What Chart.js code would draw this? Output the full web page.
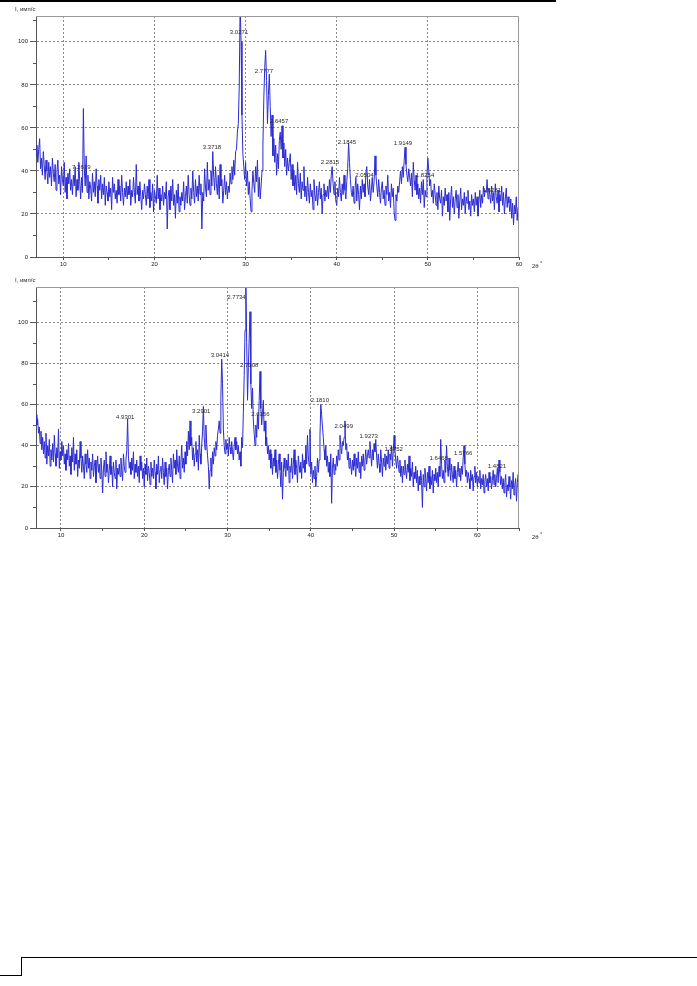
<!DOCTYPE html>
<html>
<head>
<meta charset="utf-8">
<script src="https://cdn.jsdelivr.net/npm/chart.js@4.4.0/dist/chart.umd.min.js"></script>
<style>
  html, body { margin: 0; padding: 0; background: #fff; }
  body { position: relative; width: 697px; height: 986px; overflow: hidden; }
  canvas { position: absolute; left: 0; }
  .rule { position: absolute; border-color: #000; border-style: solid; border-width: 0; }
</style>
</head>
<body>
<canvas id="xrd1" width="560" height="275" style="top:0"></canvas>
<canvas id="xrd2" width="560" height="275" style="top:275px"></canvas>

<div class="rule" style="left:0;top:0;width:556px;border-top-width:2px"></div>
<div class="rule" style="left:21px;top:957px;width:676px;border-top-width:1px"></div>
<div class="rule" style="left:21px;top:957px;height:19px;border-left-width:1px"></div>
<div class="rule" style="left:0;top:975px;width:22px;border-top-width:1px"></div>

<script>
const FONT = "'Liberation Sans', Arial, sans-serif";
const LINE_BLUE = '#2b2bd2';

// scan grid, degrees 2-theta
const scanStart = 7;
const scanStep = 0.1;

// upper pattern, 7.0 .. 60.0
const intensity1 = [
    47, 52, 44, 50, 55, 41, 46, 38, 49, 43, 36, 45, 40, 34, 44, 37, 42, 33, 46, 39,
    35, 43, 31, 40, 45, 34, 38, 29, 42, 36, 33, 44, 30, 37, 27, 39, 34, 41, 31, 36,
    29, 38, 33, 42, 28, 36, 31, 44, 35, 27, 37, 30, 69, 41, 33, 47, 30, 38, 27, 35,
    32, 26, 39, 30, 35, 28, 41, 33, 25, 36, 31, 38, 27, 34, 29, 37, 24, 33, 30, 26,
    35, 28, 32, 22, 37, 30, 34, 27, 31, 25, 36, 29, 33, 26, 38, 30, 24, 32, 28, 35,
    27, 33, 29, 36, 24, 31, 28, 37, 30, 25, 43, 29, 33, 26, 35, 28, 22, 31, 27, 34,
    29, 24, 33, 27, 36, 23, 30, 26, 34, 21, 31, 28, 25, 38, 27, 32, 22, 29, 26, 33,
    24, 30, 27, 35, 13, 28, 31, 22, 33, 26, 36, 24, 29, 18, 31, 25, 34, 21, 28, 24,
    30, 26, 35, 22, 28, 33, 25, 38, 29, 24, 32, 27, 40, 30, 25, 36, 28, 33, 26, 38,
    29, 34, 13, 30, 26, 41, 32, 28, 44, 31, 36, 29, 40, 33, 49, 37, 31, 42, 34, 29,
    38, 27, 43, 33, 36, 25, 31, 38, 29, 35, 27, 33, 30, 39, 34, 42, 36, 45, 38, 49,
    50, 58, 62, 79, 118, 100, 66, 48, 42, 36, 44, 33, 40, 29, 35, 27, 21, 31, 40, 34,
    30, 42, 35, 45, 28, 37, 27, 33, 40, 52, 74, 88, 96, 82, 62, 75, 85, 70, 56, 66,
    47, 55, 44, 52, 38, 48, 41, 54, 58, 50, 61, 46, 53, 42, 50, 38, 46, 40, 44, 48,
    36, 43, 33, 40, 31, 38, 29, 44, 34, 30, 39, 27, 35, 31, 42, 28, 33, 26, 37, 30,
    25, 34, 28, 31, 22, 36, 29, 26, 33, 24, 30, 35, 27, 32, 20, 29, 34, 26, 31, 28,
    33, 27, 36, 30, 38, 42, 34, 29, 35, 26, 24, 32, 28, 37, 30, 26, 34, 29, 38, 31,
    27, 35, 41, 53, 44, 36, 30, 28, 33, 25, 31, 37, 26, 34, 29, 22, 33, 27, 36, 30,
    34, 28, 39, 42, 33, 29, 36, 26, 31, 37, 30, 35, 47, 38, 33, 28, 36, 30, 25, 32,
    35, 27, 31, 24, 33, 29, 38, 26, 30, 23, 34, 28, 32, 21, 17, 29, 26, 33, 30, 35,
    40, 34, 42, 37, 45, 51, 43, 38, 35, 41, 37, 33, 39, 28, 44, 36, 31, 38, 29, 34,
    27, 32, 25, 35, 29, 36, 23, 31, 28, 38, 46, 40, 33, 36, 28, 31, 25, 34, 29, 24,
    30, 22, 33, 27, 25, 31, 19, 28, 24, 32, 26, 29, 21, 30, 17, 27, 33, 23, 28, 20,
    27, 31, 23, 29, 18, 26, 32, 22, 27, 24, 30, 20, 28, 25, 31, 22, 26, 19, 29, 24,
    27, 21, 30, 24, 28, 19, 26, 31, 23, 29, 25, 33, 28, 31, 30, 36, 27, 32, 29, 25,
    33, 26, 30, 22, 34, 28, 25, 31, 21, 29, 26, 33, 24, 30, 20, 27, 32, 23, 28, 25,
    21, 27, 18, 25, 15, 24, 20, 28, 17, 23,
    22,
];

// lower pattern, 7.0 .. 65.0
const intensity2 = [
    55, 50, 53, 46, 49, 41, 47, 38, 44, 36, 42, 34, 46, 31, 40, 35, 43, 30, 38, 33,
    41, 32, 45, 36, 30, 39, 34, 48, 29, 37, 33, 42, 35, 40, 31, 36, 28, 38, 33, 41,
    30, 35, 26, 39, 32, 44, 28, 36, 31, 38, 25, 33, 29, 42, 34, 27, 35, 30, 24, 36,
    31, 27, 38, 29, 34, 24, 32, 28, 36, 25, 30, 33, 22, 29, 35, 27, 31, 24, 34, 28,
    17, 29, 33, 25, 37, 27, 31, 22, 28, 35, 26, 30, 20, 32, 27, 24, 33, 19, 29, 26,
    31, 25, 34, 28, 23, 36, 30, 27, 33, 38, 53, 35, 29, 32, 26, 34, 28, 37, 24, 31,
    27, 33, 25, 30, 22, 35, 28, 32, 24, 29, 20, 31, 26, 34, 23, 30, 27, 21, 32, 25,
    29, 24, 33, 27, 19, 31, 26, 35, 22, 28, 30, 24, 34, 27, 21, 32, 25, 29, 19, 28,
    31, 25, 34, 28, 22, 36, 29, 33, 26, 38, 30, 27, 35, 24, 32, 40, 29, 34, 27, 37,
    31, 42, 35, 47, 38, 52, 40, 44, 33, 39, 30, 36, 42, 32, 38, 28, 45, 36, 31, 40,
    47, 59, 44, 38, 50, 41, 35, 30, 19, 28, 34, 25, 37, 31, 39, 35, 42, 38, 45, 48,
    52, 46, 63, 82, 70, 48, 40, 36, 43, 38, 41, 35, 44, 39, 36, 42, 37, 33, 40, 44,
    38, 42, 36, 40, 33, 37, 30, 44, 39, 56, 74, 96, 120, 90, 62, 78, 92, 105, 70, 58,
    68, 52, 46, 40, 50, 44, 55, 48, 62, 76, 58, 50, 56, 62, 47, 52, 40, 44, 36, 40,
    33, 38, 29, 36, 26, 34, 30, 38, 27, 33, 24, 31, 36, 28, 20, 32, 14, 27, 34, 29,
    25, 33, 28, 36, 22, 30, 27, 34, 24, 31, 38, 26, 33, 29, 22, 35, 30, 27, 32, 24,
    36, 29, 33, 27, 40, 31, 45, 35, 30, 48, 26, 32, 22, 28, 24, 30, 20, 25, 34, 27,
    33, 45, 60, 55, 49, 44, 38, 33, 40, 30, 35, 27, 32, 25, 36, 12, 29, 34, 26, 31,
    28, 35, 30, 38, 33, 45, 40, 36, 42, 40, 44, 52, 38, 41, 33, 37, 29, 34, 31, 26,
    33, 28, 36, 30, 25, 34, 29, 37, 27, 32, 24, 35, 30, 36, 28, 33, 38, 31, 35, 38,
    34, 42, 36, 30, 38, 33, 41, 37, 43, 35, 29, 36, 31, 27, 38, 32, 25, 34, 30, 36,
    28, 35, 31, 38, 29, 36, 33, 40, 30, 37, 45, 38, 33, 29, 35, 31, 27, 33, 25, 30,
    22, 30, 26, 33, 28, 24, 31, 27, 35, 23, 29, 25, 32, 20, 27, 24, 30, 22, 28, 18,
    25, 21, 28, 23, 10, 26, 20, 29, 24, 18, 27, 22, 30, 19, 25, 21, 28, 17, 26, 23,
    29, 22, 27, 20, 30, 25, 43, 31, 24, 28, 22, 33, 27, 40, 30, 25, 34, 28, 23, 31,
    26, 22, 30, 24, 28, 20, 27, 32, 25, 29, 23, 30, 26, 34, 40, 31, 25, 28, 22, 27,
    24, 19, 28, 23, 26, 18, 25, 30, 22, 27, 20, 25, 22, 28, 19, 24, 21, 26, 17, 23,
    26, 20, 24, 18, 27, 22, 25, 19, 23, 28, 21, 26, 20, 24, 29, 22, 33, 27, 21, 25,
    19, 24, 17, 22, 26, 15, 21, 18, 25, 20, 14, 23, 19, 27, 16, 21, 24, 13, 22, 26,
    18,
];

const xRange1 = [7, 60];
const xRange2 = [7, 65];
const yMax1 = 112;
const yMax2 = 117;

const xTicks1 = [10, 15, 20, 25, 30, 35, 40, 45, 50, 55, 60];
const xTicks2 = [10, 15, 20, 25, 30, 35, 40, 45, 50, 55, 60, 65];
const xLabels = [10, 20, 30, 40, 50, 60];
const yTicks = [0, 10, 20, 30, 40, 50, 60, 70, 80, 90, 100, 110];
const yLabels = [0, 20, 40, 60, 80, 100];

// d-spacing labels: text, centre angle, centre height
const peakText1 = ['7.2619', '3.3718', '3.0271', '2.7777', '2.6457', '2.2815', '2.1845', '2.0504', '1.9149', '1.8254', '1.6281'];
const peakAngle1 = [11.97, 26.31, 29.28, 32.02, 33.67, 39.26, 41.13, 43.05, 47.27, 49.69, 57.04];
const peakHeight1 = [41.5, 51, 104.2, 86.1, 62.9, 44.1, 53.4, 38.1, 52.8, 38.1, 31.1];

const peakText2 = ['4.9301', '3.2901', '3.0414', '2.7734', '2.7108', '2.6156', '2.1810', '2.0499', '1.9273', '1.8752', '1.6468', '1.5766', '1.4821'];
const peakAngle2 = [17.72, 26.84, 29.08, 31.08, 32.6, 33.94, 41.08, 43.96, 46.96, 49.96, 55.36, 58.3, 62.36];
const peakHeight2 = [53.5, 56.6, 84, 112, 79, 55.3, 62, 49.4, 44.5, 38, 33.7, 36.4, 29.9];

function toPoints(values) {
    return values.map((v, i) => ({ x: +(scanStart + i * scanStep).toFixed(1), y: v }));
}

const xrdDecor = {
    id: 'xrdDecor',
    afterDatasetsDraw(chart, args, opts) {
        const { ctx, chartArea: a, scales: { x, y } } = chart;
        ctx.save();

        // top and right edges of the frame
        ctx.strokeStyle = '#9a9a9a';
        ctx.lineWidth = 1;
        ctx.beginPath();
        ctx.moveTo(a.left, a.top + 0.5);
        ctx.lineTo(a.right - 0.5, a.top + 0.5);
        ctx.lineTo(a.right - 0.5, a.bottom);
        ctx.stroke();

        // short ticks for the unlabelled y values
        ctx.strokeStyle = '#555';
        ctx.beginPath();
        yTicks.filter(v => !yLabels.includes(v) && v <= y.max).forEach(v => {
            const py = Math.round(y.getPixelForValue(v)) + 0.5;
            ctx.moveTo(a.left - 3, py);
            ctx.lineTo(a.left, py);
        });
        ctx.stroke();

        ctx.fillStyle = '#2a2a2a';
        ctx.font = '6px ' + FONT;
        ctx.textAlign = 'center';
        ctx.textBaseline = 'middle';
        opts.text.forEach((t, i) => {
            ctx.fillText(t, x.getPixelForValue(opts.angle[i]), y.getPixelForValue(opts.height[i]));
        });

        ctx.textAlign = 'left';
        ctx.fillText('I, имп/с', 15, a.top - 7);
        ctx.fillText('2θ', a.right + 13, a.bottom + 9);
        ctx.fillText('°', a.right + 21, a.bottom + 6);
        ctx.restore();
    },
};

function makeChart(id, o) {
    const tickFont = { family: FONT, size: 6 };
    return new Chart(document.getElementById(id), {
        type: 'line',
        data: {
            datasets: [{
                data: toPoints(o.values),
                borderColor: LINE_BLUE,
                borderWidth: 1,
                pointRadius: 0,
                tension: 0,
                fill: false,
            }],
        },
        options: {
            responsive: false,
            animation: false,
            devicePixelRatio: 1,
            layout: { padding: { top: o.padTop, right: 41, left: 0, bottom: 0 } },
            plugins: {
                legend: { display: false },
                tooltip: { enabled: false },
                xrdDecor: { text: o.text, angle: o.angle, height: o.height },
            },
            scales: {
                x: {
                    type: 'linear',
                    min: o.xRange[0],
                    max: o.xRange[1],
                    afterBuildTicks: s => { s.ticks = o.xTicks.map(v => ({ value: v })); },
                    afterFit: s => { s.height = o.xAxisHeight; },
                    ticks: {
                        font: tickFont,
                        color: '#222',
                        padding: 1,
                        maxRotation: 0,
                        autoSkip: false,
                        callback: v => (xLabels.includes(v) ? String(v) : ''),
                    },
                    grid: {
                        color: c => (c.tick && xLabels.includes(c.tick.value) && c.tick.value < o.xRange[1] ? '#8a8a8a' : 'rgba(0,0,0,0)'),
                        tickColor: '#555',
                        tickLength: 3,
                        lineWidth: 1,
                    },
                    border: { color: '#555', dash: [2, 2] },
                },
                y: {
                    min: 0,
                    max: o.yMax,
                    afterBuildTicks: s => { s.ticks = yTicks.map(v => ({ value: v })); },
                    afterFit: s => { s.width = 36; },
                    ticks: {
                        font: tickFont,
                        color: '#222',
                        padding: 2,
                        autoSkip: false,
                        callback: v => (yLabels.includes(v) ? String(v) : ''),
                    },
                    grid: {
                        color: c => (c.tick && yLabels.includes(c.tick.value) && c.tick.value > 0 ? '#8a8a8a' : 'rgba(0,0,0,0)'),
                        tickColor: c => (c.tick && yLabels.includes(c.tick.value) ? '#555' : 'rgba(0,0,0,0)'),
                        tickLength: 6,
                        lineWidth: 1,
                    },
                    border: { color: '#555', dash: [2, 2] },
                },
            },
        },
        plugins: [xrdDecor],
    });
}

makeChart('xrd1', {
    values: intensity1, xRange: xRange1, xTicks: xTicks1, yMax: yMax1,
    padTop: 16, xAxisHeight: 18,
    text: peakText1, angle: peakAngle1, height: peakHeight1,
});

makeChart('xrd2', {
    values: intensity2, xRange: xRange2, xTicks: xTicks2, yMax: yMax2,
    padTop: 12, xAxisHeight: 22,
    text: peakText2, angle: peakAngle2, height: peakHeight2,
});
</script>
</body>
</html>
